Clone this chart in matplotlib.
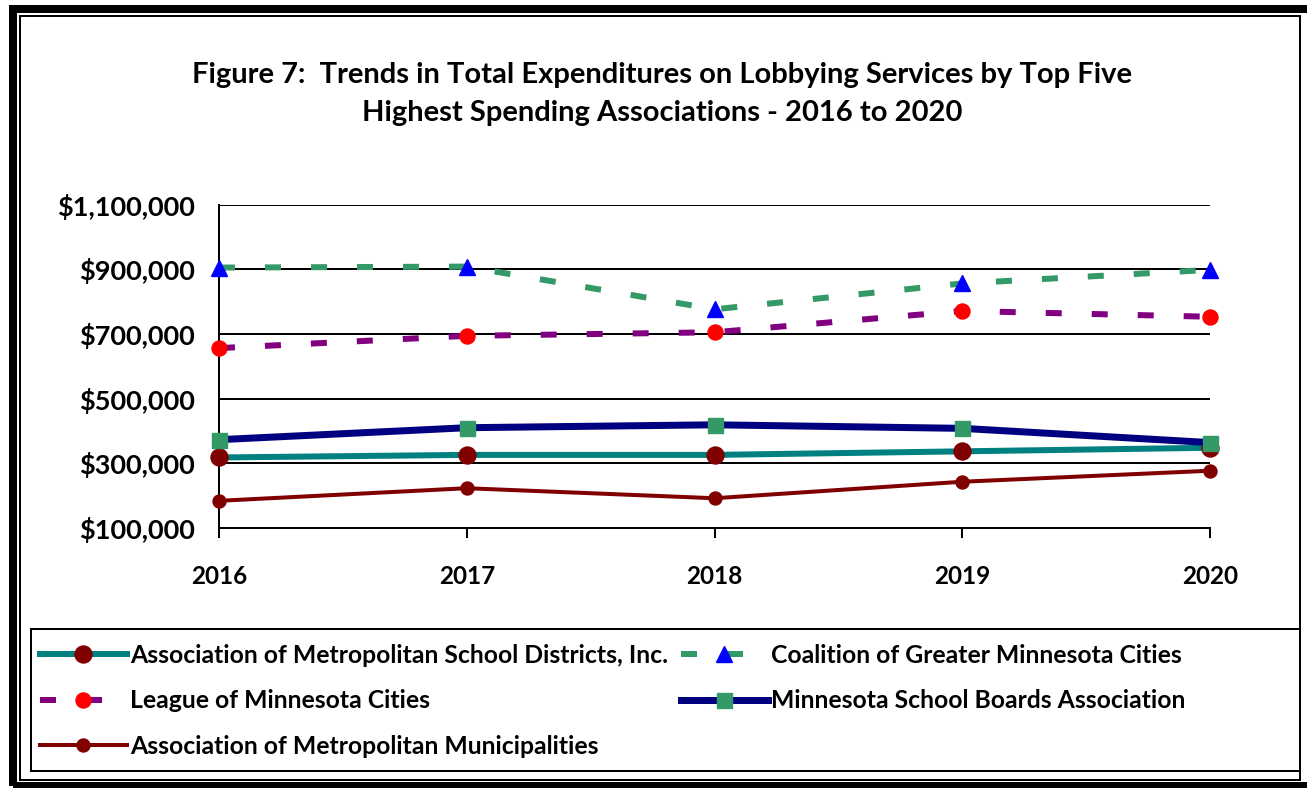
import matplotlib
matplotlib.use('Agg')
import matplotlib.pyplot as plt
from matplotlib.patches import Rectangle

# values
years = [2016, 2017, 2018, 2019, 2020]
amsd = [318000, 326000, 326000, 337000, 348000]
coalition = [905000, 908000, 776000, 856000, 898000]
league = [656000, 694000, 705000, 771000, 753000]
msba = [373000, 410000, 419000, 408000, 364000]
amm = [184000, 223000, 192000, 243000, 277000]

y_ticks = [100000, 300000, 500000, 700000, 900000, 1100000]

title = ('Figure 7:  Trends in Total Expenditures on Lobbying Services by Top Five\n'
         'Highest Spending Associations - 2016 to 2020')

plt.rcParams['font.family'] = ['Lato', 'DejaVu Sans']
plt.rcParams['font.weight'] = 'bold'
plt.rcParams['lines.scale_dashes'] = False

W, H = 1307, 788
fig = plt.figure(figsize=(W / 100, H / 100), dpi=100)
ax = fig.add_axes([219 / W, 1 - 528 / H, (1210 - 219) / W, (528 - 204.5) / H])

px = 72 / 100  # one pixel in points
dash = (16 * px, 30 * px)

l_amsd, = ax.plot(years, amsd, color='#008080', lw=6 * px, marker='o', ms=17 * px,
                  mfc='#800000', mec='#800000', clip_on=False, zorder=3)
l_coal, = ax.plot(years, coalition, color='#339966', lw=6 * px, dashes=dash,
                  dash_capstyle='butt', marker='^', ms=16 * px, mfc='#0000FF',
                  mec='#0000FF', clip_on=False, zorder=4)
l_league, = ax.plot(years, league, color='#800080', lw=6 * px, dashes=dash,
                    dash_capstyle='butt', marker='o', ms=15 * px, mfc='#FF0000',
                    mec='#FF0000', clip_on=False, zorder=4)
l_msba, = ax.plot(years, msba, color='#000080', lw=7 * px, marker='s', ms=15 * px,
                  mfc='#339966', mec='#339966', clip_on=False, zorder=5)
l_amm, = ax.plot(years, amm, color='#800000', lw=4 * px, marker='o', ms=13 * px,
                 mfc='#800000', mec='#800000', clip_on=False, zorder=3)

ax.set_xlim(2016, 2020)
ax.set_ylim(100000, 1100000)
ax.set_xticks(years)
ax.set_yticks(y_ticks)
ax.set_yticklabels(['${:,.0f}'.format(v) for v in y_ticks])
ax.grid(axis='y', color='black', lw=2 * px, zorder=1)
ax.set_axisbelow(True)
for s in ['top', 'right']:
    ax.spines[s].set_visible(False)
for s in ['left', 'bottom']:
    ax.spines[s].set_linewidth(2 * px)
ax.tick_params(axis='x', direction='out', length=10 * px, width=2 * px,
               pad=27 * px, labelsize=17.5)
ax.tick_params(axis='y', length=0, pad=24 * px, labelsize=19.5)

fig.text(662 / W, 1 - 94 / H, title, ha='center', va='center', fontsize=21,
         fontweight='bold', linespacing=1.55)

# legend frame and two legend columns
fig.patches.append(Rectangle((31 / W, 1 - 771 / H), (1300 - 31) / W, (771 - 629) / H,
                             transform=fig.transFigure, fill=False, ec='black',
                             lw=2 * px))
leg_kw = dict(loc='upper left', frameon=False, fontsize=17.8, handlelength=3.5,
              handletextpad=0.16, labelspacing=0.9, borderpad=0, borderaxespad=0)
fig.legend([l_amsd, l_league, l_amm],
           ['Association of Metropolitan School Districts, Inc.',
            'League of Minnesota Cities',
            'Association of Metropolitan Municipalities'],
           bbox_to_anchor=(40 / W, 1 - 644 / H), **leg_kw)
fig.legend([l_coal, l_msba],
           ['Coalition of Greater Minnesota Cities',
            'Minnesota School Boards Association'],
           bbox_to_anchor=(681 / W, 1 - 644 / H), **leg_kw)

# double border round the whole chart
fig.patches.append(Rectangle((13 / W, 2 / H), 1.0, 1 - 11 / H, transform=fig.transFigure,
                             fill=False, ec='black', lw=8 * px))
fig.patches.append(Rectangle((20 / W, 1 - 780 / H), (1300 - 20) / W, (780 - 16) / H,
                             transform=fig.transFigure, fill=False, ec='black',
                             lw=2 * px))

fig.savefig('out.png', dpi=100)
